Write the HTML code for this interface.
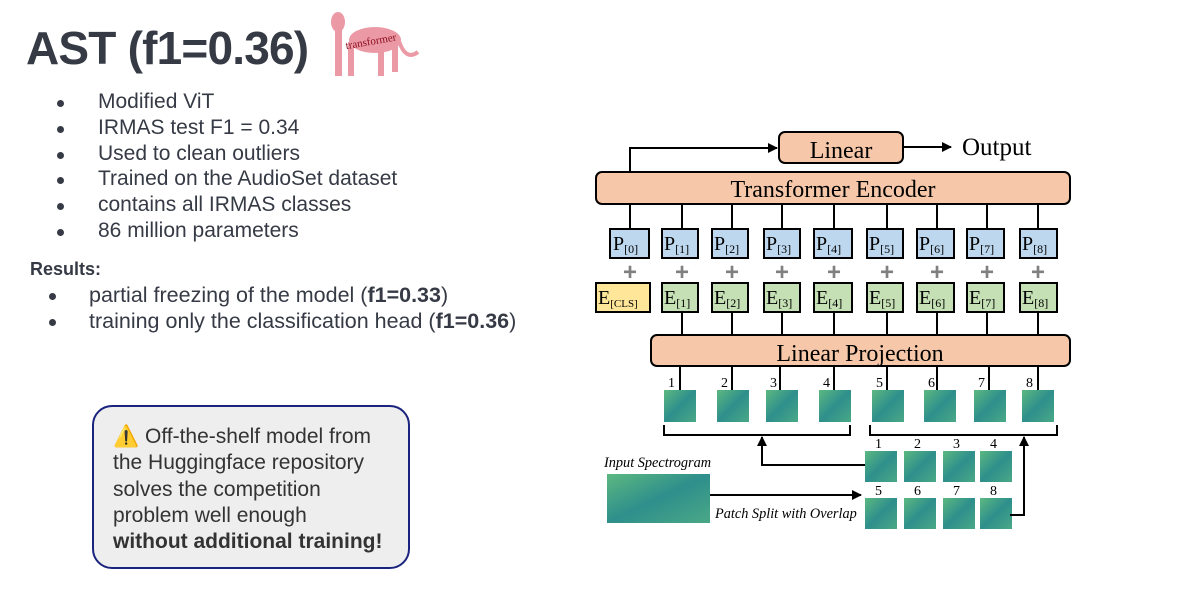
<!DOCTYPE html>
<html><head><meta charset="utf-8"><style>
body{margin:0;width:1183px;height:601px;background:#fff;position:relative;overflow:hidden;font-family:"Liberation Sans",Arial,sans-serif;color:#353a45}
.t{position:absolute;white-space:nowrap}
.b{position:absolute;width:7px;height:7px;border-radius:50%;background:#353a45}
</style></head><body>
<div class="t" style="left:26px;top:18px;font-size:46px;font-weight:bold;letter-spacing:-0.8px;line-height:60px">AST (f1=0.36)</div>
<div class="b" style="left:57px;top:100px"></div><div class="t" style="left:98px;top:90px;font-size:21px">Modified ViT</div>
<div class="b" style="left:57px;top:126px"></div><div class="t" style="left:98px;top:116px;font-size:21px">IRMAS test F1 = 0.34</div>
<div class="b" style="left:57px;top:152px"></div><div class="t" style="left:98px;top:142px;font-size:21px">Used to clean outliers</div>
<div class="b" style="left:57px;top:177px"></div><div class="t" style="left:98px;top:167px;font-size:21px">Trained on the AudioSet dataset</div>
<div class="b" style="left:57px;top:203px"></div><div class="t" style="left:98px;top:193px;font-size:21px">contains all IRMAS classes</div>
<div class="b" style="left:57px;top:229px"></div><div class="t" style="left:98px;top:219px;font-size:21px">86 million parameters</div>
<div class="t" style="left:30px;top:259px;font-size:18px;font-weight:bold">Results:</div>
<div class="b" style="left:49px;top:293px"></div><div class="t" style="left:89px;top:283px;font-size:21.5px">partial freezing of the model (<b>f1=0.33</b>)</div>
<div class="b" style="left:49px;top:319px"></div><div class="t" style="left:89px;top:309px;font-size:21.5px">training only the classification head (<b>f1=0.36</b>)</div>
<div style="position:absolute;left:92px;top:405px;width:314px;height:160px;border:2px solid #1a237e;border-radius:20px;background:#eeeeee"></div>
<div class="t" style="left:113px;top:424px;font-size:21px;line-height:26.3px;color:#333">⚠️ Off-the-shelf model from<br>the Huggingface repository<br>solves the competition<br>problem well enough<br><b>without additional training!</b></div>
<svg style="position:absolute;left:0;top:0" width="1183" height="601" font-family="Liberation Serif,serif">
<defs>
<linearGradient id="sp" x1="0" y1="0" x2="1" y2="1"><stop offset="0" stop-color="#5cb880"/><stop offset="0.5" stop-color="#2e8f8c"/><stop offset="1" stop-color="#4aa886"/></linearGradient>
<marker id="ar" markerWidth="10" markerHeight="10" refX="9" refY="5" orient="auto" markerUnits="userSpaceOnUse"><path d="M0,0 L10,5 L0,10z" fill="#000"/></marker>
</defs>
<g fill="#e88090" opacity="0.8">
<ellipse cx="375" cy="40" rx="26" ry="13"/><ellipse cx="338" cy="22" rx="7" ry="10"/>
<rect x="335" y="28" width="7" height="48"/><rect x="348" y="42" width="6" height="34"/><rect x="378" y="42" width="6" height="34"/><rect x="392" y="42" width="6" height="30"/>
<path d="M398,38 Q405,62 418,52" stroke="#e88090" stroke-width="4" fill="none"/>
</g>
<text x="345" y="45" font-size="11" fill="#8b1020" transform="rotate(-10 370 40)">transformer</text>
<g stroke="#000" stroke-width="2" fill="none">
<path d="M630,172 V148 H777" marker-end="url(#ar)"/>
<path d="M903,147 H951" marker-end="url(#ar)"/>
</g>
<rect x="779" y="132" width="124" height="31" rx="6" fill="#f6c8a9" stroke="#000" stroke-width="2"/>
<text x="841" y="158" font-size="24" text-anchor="middle">Linear</text>
<text x="962" y="155" font-size="25">Output</text>
<rect x="596" y="172" width="474" height="32" rx="6" fill="#f6c8a9" stroke="#000" stroke-width="2"/>
<text x="833" y="197" font-size="24" text-anchor="middle">Transformer Encoder</text>
<g stroke="#000" stroke-width="2">
<line x1="630" y1="204" x2="630" y2="229"/><line x1="682" y1="204" x2="682" y2="229"/><line x1="732" y1="204" x2="732" y2="229"/><line x1="782" y1="204" x2="782" y2="229"/><line x1="834" y1="204" x2="834" y2="229"/><line x1="887" y1="204" x2="887" y2="229"/><line x1="937" y1="204" x2="937" y2="229"/><line x1="987" y1="204" x2="987" y2="229"/><line x1="1038" y1="204" x2="1038" y2="229"/>
<line x1="682" y1="312" x2="682" y2="335"/><line x1="732" y1="312" x2="732" y2="335"/><line x1="782" y1="312" x2="782" y2="335"/><line x1="834" y1="312" x2="834" y2="335"/><line x1="887" y1="312" x2="887" y2="335"/><line x1="937" y1="312" x2="937" y2="335"/><line x1="987" y1="312" x2="987" y2="335"/><line x1="1038" y1="312" x2="1038" y2="335"/>
<line x1="680" y1="366" x2="680" y2="390"/><line x1="732" y1="366" x2="732" y2="390"/><line x1="780" y1="366" x2="780" y2="390"/><line x1="834" y1="366" x2="834" y2="390"/><line x1="887" y1="366" x2="887" y2="390"/><line x1="937" y1="366" x2="937" y2="390"/><line x1="989" y1="366" x2="989" y2="390"/><line x1="1038" y1="366" x2="1038" y2="390"/>
</g>
<g fill="#bdd7ee" stroke="#000" stroke-width="2">
<rect x="610" y="229" width="39" height="29"/><rect x="662" y="229" width="36" height="29"/><rect x="712" y="229" width="36" height="29"/><rect x="764" y="229" width="36" height="29"/><rect x="814" y="229" width="38" height="29"/><rect x="867" y="229" width="36" height="29"/><rect x="917" y="229" width="37" height="29"/><rect x="967" y="229" width="37" height="29"/><rect x="1020" y="229" width="37" height="29"/>
</g>
<g fill="#c5e0b4" stroke="#000" stroke-width="2">
<rect x="596" y="283" width="54" height="29" fill="#ffe699"/><rect x="662" y="283" width="36" height="29"/><rect x="712" y="283" width="36" height="29"/><rect x="764" y="283" width="36" height="29"/><rect x="814" y="283" width="38" height="29"/><rect x="867" y="283" width="36" height="29"/><rect x="917" y="283" width="37" height="29"/><rect x="967" y="283" width="37" height="29"/><rect x="1020" y="283" width="37" height="29"/>
</g>
<g font-size="20">
<text x="613" y="250">P<tspan font-size="12" dy="3">[0]</tspan></text><text x="664" y="250">P<tspan font-size="12" dy="3">[1]</tspan></text><text x="714" y="250">P<tspan font-size="12" dy="3">[2]</tspan></text><text x="766" y="250">P<tspan font-size="12" dy="3">[3]</tspan></text><text x="816" y="250">P<tspan font-size="12" dy="3">[4]</tspan></text><text x="869" y="250">P<tspan font-size="12" dy="3">[5]</tspan></text><text x="919" y="250">P<tspan font-size="12" dy="3">[6]</tspan></text><text x="969" y="250">P<tspan font-size="12" dy="3">[7]</tspan></text><text x="1022" y="250">P<tspan font-size="12" dy="3">[8]</tspan></text>
<text x="598" y="304">E<tspan font-size="11" dy="3">[CLS]</tspan></text><text x="664" y="304">E<tspan font-size="12" dy="3">[1]</tspan></text><text x="714" y="304">E<tspan font-size="12" dy="3">[2]</tspan></text><text x="766" y="304">E<tspan font-size="12" dy="3">[3]</tspan></text><text x="816" y="304">E<tspan font-size="12" dy="3">[4]</tspan></text><text x="869" y="304">E<tspan font-size="12" dy="3">[5]</tspan></text><text x="919" y="304">E<tspan font-size="12" dy="3">[6]</tspan></text><text x="969" y="304">E<tspan font-size="12" dy="3">[7]</tspan></text><text x="1022" y="304">E<tspan font-size="12" dy="3">[8]</tspan></text>
</g>
<g fill="#808080" font-family="Liberation Sans" font-weight="bold" font-size="24" text-anchor="middle">
<text x="630" y="280">+</text><text x="682" y="280">+</text><text x="732" y="280">+</text><text x="782" y="280">+</text><text x="834" y="280">+</text><text x="887" y="280">+</text><text x="937" y="280">+</text><text x="987" y="280">+</text><text x="1038" y="280">+</text>
</g>
<rect x="651" y="335" width="419" height="31" rx="6" fill="#f6c8a9" stroke="#000" stroke-width="2"/>
<text x="860" y="361" font-size="24" text-anchor="middle">Linear Projection</text>
<g font-size="14">
<text x="668" y="387">1</text><text x="721" y="387">2</text><text x="770" y="387">3</text><text x="823" y="387">4</text><text x="876" y="387">5</text><text x="928" y="387">6</text><text x="978" y="387">7</text><text x="1026" y="387">8</text>
<text x="875" y="448">1</text><text x="914" y="448">2</text><text x="953" y="448">3</text><text x="990" y="448">4</text>
<text x="875" y="495">5</text><text x="914" y="495">6</text><text x="953" y="495">7</text><text x="990" y="495">8</text>
</g>
<g fill="url(#sp)">
<rect x="664" y="390" width="32" height="32"/><rect x="717" y="390" width="32" height="32"/><rect x="766" y="390" width="32" height="32"/><rect x="819" y="390" width="32" height="32"/><rect x="872" y="390" width="32" height="32"/><rect x="924" y="390" width="32" height="32"/><rect x="974" y="390" width="32" height="32"/><rect x="1022" y="390" width="32" height="32"/>
<rect x="865" y="451" width="32" height="31"/><rect x="904" y="451" width="32" height="31"/><rect x="943" y="451" width="32" height="31"/><rect x="980" y="451" width="32" height="31"/>
<rect x="865" y="498" width="32" height="31"/><rect x="904" y="498" width="32" height="31"/><rect x="943" y="498" width="32" height="31"/><rect x="980" y="498" width="32" height="31"/>
<rect x="607" y="474" width="103" height="49"/>
</g>
<g stroke="#000" stroke-width="2" fill="none">
<path d="M664,425 V435 H850 V425"/><path d="M870,425 V435 H1057 V425"/>
<path d="M865,465 H762 V437" marker-end="url(#ar)"/>
<path d="M1010,515 H1024 V437" marker-end="url(#ar)"/>
<path d="M710,495 H861" marker-end="url(#ar)"/>
</g>
<text x="604" y="467" font-size="14.3" font-style="italic">Input Spectrogram</text>
<text x="715" y="518" font-size="14.3" font-style="italic">Patch Split with Overlap</text>
</svg>
</body></html>
